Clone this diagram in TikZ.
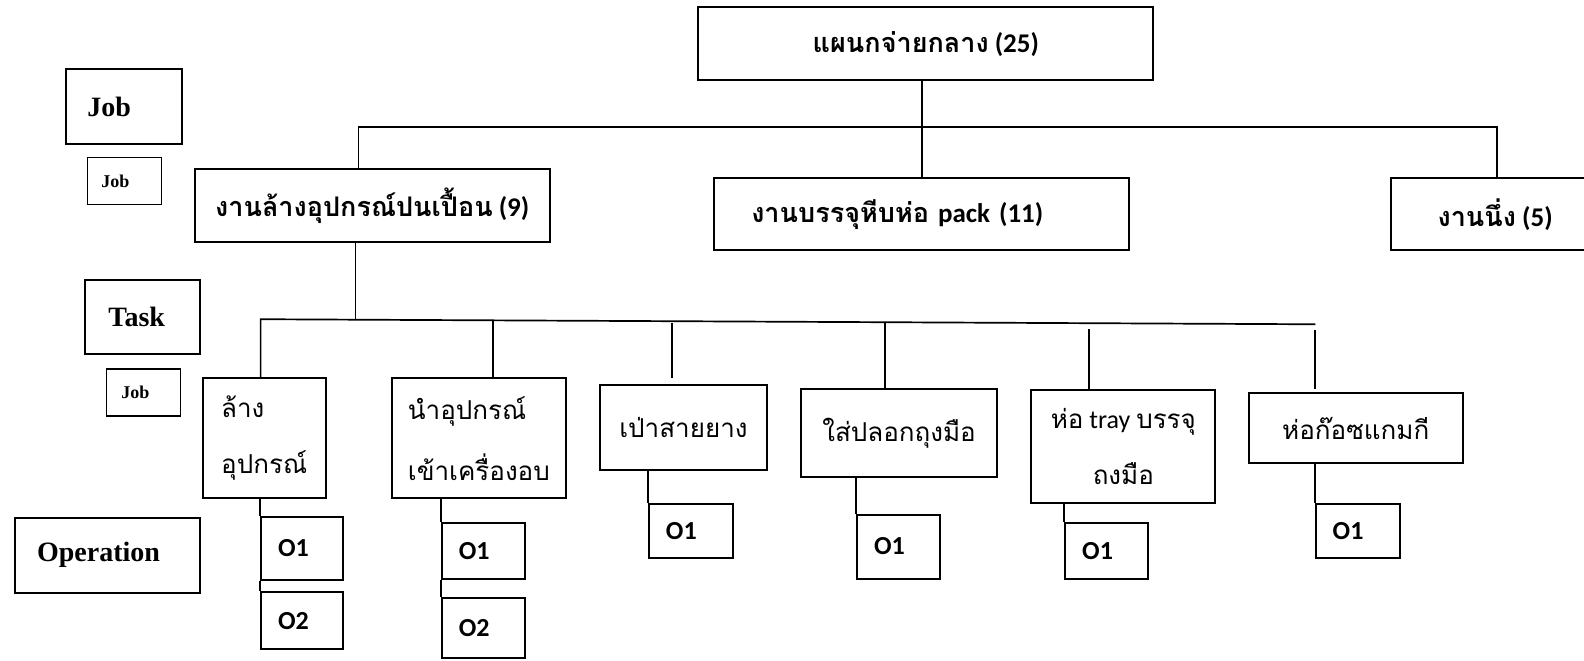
\documentclass[tikz,border=0pt]{standalone}
\usepackage{fontspec}
\setmainfont{Carlito}
\newfontfamily\thaifont[Script=Thai]{Loma}
\newfontfamily\timesfont{Liberation Serif}
\tikzstyle{bx}=[draw, line width=2pt, inner sep=0, fill=white]
\tikzstyle{lvl}=[bx, font=\timesfont\bfseries\fontsize{28}{32}\selectfont, align=left]
\tikzstyle{slvl}=[bx, line width=1.2pt, font=\timesfont\bfseries\fontsize{18}{21}\selectfont, align=left]
\tikzstyle{jobbx}=[bx, font=\bfseries\fontsize{27}{31}\selectfont]
\tikzstyle{taskbx}=[bx, font=\fontsize{26}{30}\selectfont, align=left]
\tikzstyle{opbx}=[bx, font=\bfseries\fontsize{26}{30}\selectfont, align=left]
\tikzstyle{ln}=[line width=1.7pt]

\begin{document}
\begin{tikzpicture}[x=1.0102pt, y=-1.0102pt]
\useasboundingbox (0,0) rectangle (1568,654);
% levels on the left
\node at (123,105.5)[lvl, inner xsep=21pt, text width=74pt, minimum height=75pt](lj){Job};
\node at (123,179.5)[slvl, inner xsep=14pt, text width=46pt, minimum height=47pt](lj2){Job};
\node at (141.5,314)[lvl, inner xsep=23pt, text width=69pt, minimum height=74pt](lt){Task};
\node at (142,388.5)[slvl, inner xsep=15pt, text width=44pt, minimum height=47pt](lt2){Job};
\node at (106.5,549.5)[lvl, inner xsep=22pt, text width=141pt, minimum height=75pt](lo){Operation};
% department and jobs
\node at (916.5,43.5)[jobbx, minimum width=455pt, minimum height=73pt](top){{\thaifont แผนกจ่ายกลาง} (25)};
\node at (368.5,203.5)[jobbx, minimum width=355pt, minimum height=73pt](j1){{\thaifont งานล้างอุปกรณ์ปนเปื้อน} (9)};
\node at (912.5,212)[jobbx, align=left, inner xsep=37pt, text width=341pt, minimum height=72pt](j2){{\thaifont งานบรรจุหีบห่อ} pack (11)};
\node at (1480,212)[jobbx, minimum width=208pt, minimum height=72pt](j3){{\thaifont งานนึ่ง} (5)};
\coordinate (jl) at (355,126);
\coordinate (jr) at (1482,126);
\draw[ln] (j2.north |- top.south)--(j2.north);
\draw[ln] (jl |- j1.north)--(jl)--(jr)--(jr |- j3.north);
% tasks
\node at (261.5,434)[taskbx, minimum width=123pt, minimum height=120pt](t1){{\thaifont ล้าง}\\[26pt]{\thaifont อุปกรณ์}};
\node at (474,434)[taskbx, minimum width=174pt, minimum height=120pt](t2){{\thaifont นำอุปกรณ์}\\[26pt]{\thaifont เข้าเครื่องอบ}};
\node at (676.5,423.5)[taskbx, minimum width=167pt, minimum height=85pt](t3){{\thaifont เป่าสายยาง}};
\node at (890,429)[taskbx, minimum width=196pt, minimum height=88pt](t4){{\thaifont ใส่ปลอกถุงมือ}};
\node at (1112,441.5)[taskbx, align=center, minimum width=184pt, minimum height=113pt](t5){{\thaifont ห่อ} tray {\thaifont บรรจุ}\\[26pt]{\thaifont ถงมือ}};
\node at (1342,424)[taskbx, minimum width=214pt, minimum height=70pt](t6){{\thaifont ห่อก๊อซแกมกี}};
\coordinate (tb) at (352,316);
\coordinate (tl) at (258,316);
\coordinate (tr) at (1302,321);
\coordinate (k2) at (488,317);
\coordinate (k3) at (665,320);
\coordinate (k4) at (876,319);
\coordinate (k5) at (1078,326);
\coordinate (k6) at (1302,327);
\draw[ln] (tb |- j1.south)--(tb);
\draw[ln] (tl |- t1.north)--(tl)--(tr);
\draw[ln] (k2)--(k2 |- t2.north);
\draw[ln, shorten >=6pt] (k3)--(k3 |- t3.north);
\draw[ln] (k4)--(k4 |- t4.north);
\draw[ln] (k5)--(k5 |- t5.north);
\draw[ln, shorten >=3pt] (k6)--(k6 |- t6.north);
% operations
\node at (299,542.5)[opbx, inner xsep=17pt, text width=48pt, minimum height=63pt](o11){O1};
\node at (299,614.5)[opbx, inner xsep=17pt, text width=48pt, minimum height=57pt](o12){O2};
\node at (478.5,545)[opbx, inner xsep=17pt, text width=49pt, minimum height=56pt](o21){O1};
\node at (478.5,622)[opbx, inner xsep=17pt, text width=49pt, minimum height=60pt](o22){O2};
\node at (684,526)[opbx, inner xsep=17pt, text width=50pt, minimum height=54pt](o31){O1};
\node at (889.5,541)[opbx, inner xsep=17pt, text width=49pt, minimum height=64pt](o41){O1};
\node at (1095.5,545)[opbx, inner xsep=17pt, text width=49pt, minimum height=56pt](o51){O1};
\node at (1344,526)[opbx, inner xsep=17pt, text width=50pt, minimum height=54pt](o61){O1};
\draw[ln] (t1.south -| o11.west)--(o11.north west);
\draw[ln] (o11.south west)--(o12.north west);
\draw[ln] (t2.south -| o21.west)--(o21.north west);
\draw[ln] (o21.south west)--(o22.north west);
\draw[ln] (t3.south -| o31.west)--(o31.north west);
\draw[ln] (t4.south -| o41.west)--(o41.north west);
\draw[ln] (t5.south -| o51.west)--(o51.north west);
\draw[ln] (t6.south -| o61.west)--(o61.north west);
\end{tikzpicture}
\end{document}
